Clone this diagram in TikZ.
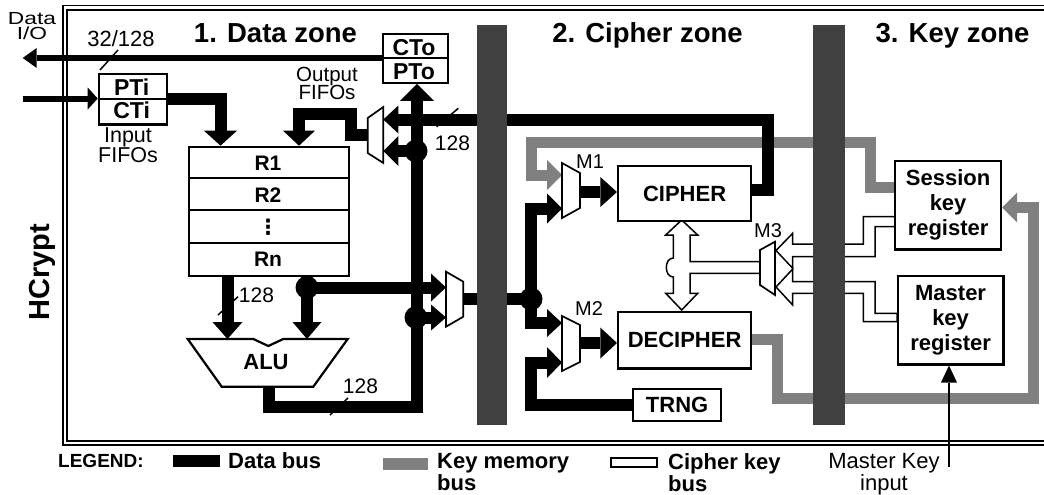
\documentclass[tikz,border=0pt]{standalone}
\usepackage{fontspec}
\setmainfont{Liberation Sans}
\newfontfamily\widefont{Liberation Sans}[FakeStretch=1.3]
\newfontfamily\dejavu{DejaVu Sans}
\usetikzlibrary{arrows.meta}
\definecolor{bargray}{HTML}{404040}
\definecolor{keygray}{HTML}{808080}
\newcommand{\tightlines}{\lineskiplimit=-50pt\relax}
\pgfdeclarelayer{bg}
\pgfsetlayers{bg,main}
\tikzset{
  box/.style={draw, line width=2.2pt, fill=white, inner sep=0pt, align=center,
    font=\fontsize{22}{25}\selectfont\bfseries},
  mux/.style={draw, line width=1.7pt, fill=white, line join=miter},
  bus/.style={line width=12pt},
  gbus/.style={line width=11pt, draw=keygray},
  kbus/.style={draw, line width=1.5pt, fill=white},
  thinbus/.style={line width=6pt},
  ah/.style 2 args={-{Triangle[length=#1pt,width=#2pt,line width=0pt]}},
  dot/.style={circle, fill, inner sep=0pt, minimum size=23pt},
  slash/.style={line width=1.5pt},
  lab/.style={font=\fontsize{21}{21}\selectfont},
  blab/.style={font=\fontsize{23}{23}\selectfont\bfseries},
  rlab/.style={font=\fontsize{21}{21}\selectfont\bfseries},
  zone/.style={font=\fontsize{27.5}{27.5}\selectfont\bfseries, anchor=base},
  leg/.style={font=\fontsize{22}{22}\selectfont\bfseries, inner sep=0pt, align=left},
  divider/.style={line width=2.2pt},
}
\begin{document}
\begin{tikzpicture}[x=1pt,y=-1pt]
\useasboundingbox (0,0) rectangle (1044,495);
\clip (0,0) rectangle (1044,495);

% ---------- boxes ----------
\node[box, minimum width=68, minimum height=50, anchor=north west] (fin) at (97.7,73.3) {};
\node[box, minimum width=65, minimum height=48.4, anchor=north west] (fout) at (381.7,33.3) {};
\node[box, minimum width=160, minimum height=129.3, anchor=north west] (regs) at (188,145.7) {};
\node[box, minimum width=133, minimum height=55, anchor=north west] (cipher) at (617,165) {CIPHER};
\node[box, minimum width=133, minimum height=56.6, anchor=north west] (decipher) at (617,310.7) {DECIPHER};
\node[box, minimum width=88, minimum height=32.3, anchor=north west] (trng) at (632,387.7) {TRNG};
\node[box, minimum width=106, minimum height=88.3, anchor=north west] (skr) at (894,160) {Session\\key\\register};
\node[box, minimum width=105.6, minimum height=88.3, anchor=north west] (mkr) at (896.7,275) {Master\\key\\register};

\draw[divider] (fin.west |- 0,99) -- (fin.east |- 0,99);
\draw[divider] (fout.west |- 0,58) -- (fout.east |- 0,58);
\draw[divider] (regs.west |- 0,177.7) -- (regs.east |- 0,177.7);
\draw[divider] (regs.west |- 0,210) -- (regs.east |- 0,210);
\draw[divider] (regs.west |- 0,243.3) -- (regs.east |- 0,243.3);

\node[blab] (pti) at (131.7,87.5) {PTi};
\node[blab] (cti) at (131.7,110.7) {CTi};
\node[blab] (cto) at (414,47.5) {CTo};
\node[blab] (pto) at (414,71.5) {PTo};
\node[rlab] (r1) at (268,163) {R1};
\node[rlab] (r2) at (268,195) {R2};
\node[rlab, font=\fontsize{21}{21}\selectfont\bfseries\dejavu] (rd) at (268,227.5) {⋮};
\node[rlab] (rn) at (268,259.5) {Rn};

% ALU
\draw[mux, line width=2.2pt] (187.7,339) -- (253.3,339) -- (268.3,346) -- (283.3,339) -- (347.7,339) -- (313.3,386.7) -- (221.7,386.7) -- cycle;
\node[font=\fontsize{22}{22}\selectfont\bfseries] (alu) at (266,362.5) {ALU};
\coordinate (aluA) at (227.5,339);
\coordinate (aluB) at (307,339);
\coordinate (aluO) at (268.7,386.7);

% multiplexers
\draw[mux] (383.3,107) -- (383.3,163) -- (367.7,153) -- (367.7,118) -- cycle;
\draw[mux] (446,271.7) -- (463.3,281.7) -- (463.3,316.7) -- (446,326.7) -- cycle;
\draw[mux] (562,163) -- (580,173) -- (580,208) -- (562,218) -- cycle;
\draw[mux] (562,316) -- (580,325) -- (580,362) -- (562,371) -- cycle;
\draw[mux] (775,241.7) -- (775,295) -- (760,285) -- (760,250) -- cycle;
\coordinate (om1) at (383.3,119.5);
\coordinate (om2) at (383.3,151);
\coordinate (omo) at (367.7,135);
\coordinate (dm1) at (446,287.5);
\coordinate (dm2) at (446,317.5);
\coordinate (dmo) at (463.3,299);
\coordinate (m1a) at (562,175);
\coordinate (m1b) at (562,208.5);
\coordinate (m1o) at (580,192);
\coordinate (m2a) at (562,323);
\coordinate (m2b) at (562,362.5);
\coordinate (m2o) at (580,343);
\coordinate (r1a) at (220.5,145.7);
\coordinate (r1b) at (299,145.7);
\coordinate (inL) at (22.7,98.5);
\coordinate (ioL) at (22.7,58);
\coordinate (mkin) at (949,466.7);

% junction dots
\node[dot] (j1) at (416,151) {};
\node[dot] (j2) at (416,317.5) {};
\node[dot] (j3) at (307,287.5) {};
\node[dot] (j4) at (531,299) {};

% ---------- background: frame, buses, bars ----------
\begin{pgfonlayer}{bg}
\draw[line width=1.6pt] (63,5.5) rectangle (1070,445);
\draw[line width=2pt] (67,10.5) rectangle (1070,441);

% key memory bus (gray)
\draw[gbus, ah={15}{30}] (skr.west |- 0,187) -- (870,187) -- (870,142) -- (531,142) -- (531,175) -- (m1a);
\draw[gbus, ah={15}{30}] (decipher.east |- 0,339) -- (777,339) -- (777,398.5) -- (1033,398.5) -- (1033,207.5) -- (skr.east |- 0,207.5);

% data buses (black)
\draw[thinbus, ah={10}{22}] (inL) -- (fin.west |- inL);
\draw[thinbus, ah={14}{20}] (fout.west |- ioL) -- (ioL);
\draw[bus, ah={15}{33}] (fin.east |- 0,99) -| (r1a);
\draw[bus, ah={15}{32}] (omo) -- (351,135) |- (299,114) -- (r1b);
\draw[bus, ah={15}{28}] (cipher.east |- 0,190) -- (768,190) -- (768,119.5) -- (om1);
\draw[bus, ah={17}{34}] (aluO) |- (417,406.7) -- (fout.south -| 417,0);
\draw[bus, ah={15}{30}] (j1.center) -- (om2);
\draw[bus, ah={17}{30}] (regs.south -| aluA) -- (aluA);
\draw[bus] (regs.south -| j3) -- (j3.center);
\draw[bus, ah={17}{29}] (j3.center) -- (aluB);
\draw[bus, ah={15}{28}] (j3.center) -- (dm1);
\draw[bus, ah={15}{26}] (j2.center) -- (dm2);
\draw[bus] (dmo) -- (j4.center);
\draw[bus, ah={15}{30}] (j4.center) |- (m1b);
\draw[bus, ah={15}{28}] (j4.center) |- (m2a);
\draw[bus, ah={15}{31}] (trng.west) -- (trng.west -| j4) |- (m2b);
\draw[bus, ah={16.7}{30}] (m1o) -- (cipher.west |- m1o);
\draw[bus, ah={16.7}{31}] (m2o) -- (decipher.west |- m2o);
\draw[line width=2.5pt, ah={17}{16}] (mkin) -- (mkr.south -| mkin);

% cipher key buses (white)
\path[kbus] (681.7,220) -- (697.7,235) -- (690,235) -- (690,261.7) -- (760,261.7) -- (760,273.3) -- (690,273.3) -- (690,293.3) -- (697.7,293.3) -- (681.7,310) -- (665.7,293.3) -- (673.3,293.3) -- (673.3,277) .. controls (664,277) and (664,258) .. (673.3,258) -- (673.3,235) -- (665.7,235) -- cycle;
\path[kbus] (776,250.5) -- (792.7,233.3) -- (792.7,244) -- (863.3,244) -- (863.3,216.7) -- (895,216.7) -- (895,226.7) -- (875,226.7) -- (875,256.7) -- (792.7,256.7) -- (792.7,268.3) -- cycle;
\path[kbus] (776,287) -- (792.7,269) -- (792.7,281.7) -- (875,281.7) -- (875,313.3) -- (897,313.3) -- (897,321.7) -- (863.3,321.7) -- (863.3,293.3) -- (792.7,293.3) -- (792.7,305) -- cycle;

% zone separators
\fill[bargray] (477,25) rectangle (507,425);
\fill[bargray] (813,25) rectangle (845,425);
\end{pgfonlayer}

% bus width marks
\draw[slash] (100,70) -- (118,50);
\draw[slash] (436.7,126.7) -- (458.3,108.3);
\draw[slash] (218,315) -- (238,296.7);
\draw[slash] (330,415) -- (348,398);

% ---------- texts ----------
\node[zone] (z1) at (275.5,43) {1. Data zone};
\node[zone] (z2) at (647.5,43) {2. Cipher zone};
\node[zone] (z3) at (952.5,43) {3. Key zone};
\node[rotate=90, anchor=base, font=\fontsize{29}{29}\selectfont\bfseries] (hc) at (49,272) {HCrypt};
\node[align=center, anchor=north, inner sep=0pt, font=\widefont\fontsize{17.5}{15.5}\selectfont\tightlines] (dio) at (32,12) {Data\\I/O};
\node[lab, anchor=base, font=\fontsize{22}{22}\selectfont] (w1) at (121,47) {32/128};
\node[align=center, inner sep=0pt, font=\fontsize{21.5}{20}\selectfont\tightlines] (ififo) at (128,145) {Input\\FIFOs};
\node[align=center, inner sep=0pt, font=\fontsize{20.5}{18.5}\selectfont\tightlines] (ofifo) at (327,83.5) {Output\\FIFOs};
\node[lab, anchor=base] (w2) at (452.5,150) {128};
\node[lab, anchor=base] (w3) at (256.5,302) {128};
\node[lab, anchor=base] (w4) at (360.5,393) {128};
\node[lab, anchor=base, font=\fontsize{20}{20}\selectfont] (lm1) at (590,168) {M1};
\node[lab, anchor=base, font=\fontsize{20}{20}\selectfont] (lm2) at (589,315) {M2};
\node[lab, anchor=base, font=\fontsize{20}{20}\selectfont] (lm3) at (768,237) {M3};

% legend
\node[anchor=base west, inner sep=0pt, font=\fontsize{19}{19}\selectfont\bfseries] (legend) at (58,467) {LEGEND:};
\fill (173,455) rectangle (220,467);
\node[leg, anchor=base west] (ldb) at (228,468.5) {Data bus};
\fill[keygray] (383,458) rectangle (428,470);
\node[leg, anchor=north west] (lkb) at (437,453) {Key memory\\bus};
\draw[line width=1.5pt] (611,458) rectangle (657,467);
\node[leg, anchor=north west] (lcb) at (668,453) {Cipher key\\bus};
\node[align=center, anchor=north, inner sep=0pt, font=\fontsize{22}{22}\selectfont] (mki) at (884,453) {Master Key\\input};
\end{tikzpicture}
\end{document}
